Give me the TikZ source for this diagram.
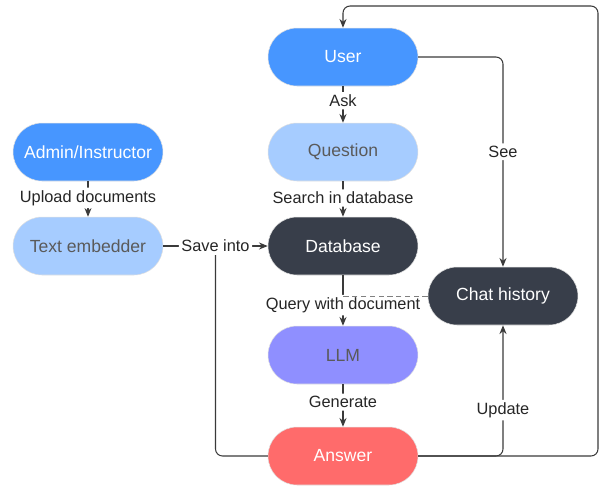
\documentclass[tikz,border=0pt]{standalone}
\usepackage{fontspec}
\setmainfont{Liberation Sans}
\usetikzlibrary{arrows.meta, positioning, calc}

\definecolor{userblue}{HTML}{4796FF}
\definecolor{paleblue}{HTML}{A6CCFF}
\definecolor{darkslate}{HTML}{383E4A}
\definecolor{llmpurple}{HTML}{8F8FFF}
\definecolor{answerred}{HTML}{FF6B6B}
\definecolor{linegray}{HTML}{3A3A3A}
\definecolor{textgray}{HTML}{5A5A5A}

\begin{document}
\begin{tikzpicture}[
        x=0.02cm, y=-0.02cm,
        pill/.style={rectangle, rounded corners=0.58cm, minimum width=3cm, minimum height=1.16cm, inner sep=0pt, draw=black!12, line width=0.3pt, font=\fontsize{10}{12}\selectfont},
        lbl/.style={fill=white, inner sep=1.5pt, text=black!85, font=\fontsize{9.3}{11}\selectfont},
        arrow/.style={-{Stealth[length=5pt, width=4pt]}, draw=linegray, line width=0.6pt, rounded corners=4pt},
        plain/.style={draw=linegray, line width=0.6pt, rounded corners=4pt}
    ]
    \useasboundingbox (0,0) rectangle (600,485);

    % Main column
    \node[pill, fill=userblue, text=white] (user) at (343,57) {User};
    \node[pill, fill=paleblue, text=textgray] (question) at (343,152) {Question};
    \node[pill, fill=darkslate, text=white] (database) at (343,246) {Database};
    \node[pill, fill=llmpurple, text=textgray] (llm) at (343,355) {LLM};
    \node[pill, fill=answerred, text=white] (answer) at (343,456) {Answer};

    % Left column
    \node[pill, fill=userblue, text=white] (admin) at (88,152) {Admin/Instructor};
    \node[pill, fill=paleblue, text=textgray] (embedder) at (88,246) {Text embedder};

    % Right side
    \node[pill, fill=darkslate, text=white] (chat) at (503,296) {Chat history};
    \coordinate (loopcorner) at (598,6);

    % --- Edges ---
    \draw[arrow] (admin) -- node[lbl, pos=0.47] {Upload documents} (embedder);
    \draw[arrow] (embedder) -- node[lbl] (save) {Save into} (database);
    \draw[plain] (answer.west) -| (save.south);

    \draw[arrow] (user) -- node[lbl, pos=0.4] {Ask} (question);
    \draw[arrow] (question) -- node[lbl, pos=0.47] {Search in database} (database);
    \draw[arrow] (database) -- node[lbl, pos=0.59] {Query with document} (llm);
    \draw[arrow] (llm) -- node[lbl, pos=0.42] {Generate} (answer);

    % Chat history links
    \draw[arrow] (user.east) -| node[lbl, pos=0.726] {See} (chat.north);
    \draw[arrow] (answer.east) -| node[lbl, pos=0.675] {Update} (chat.south);
    \draw[draw=gray, line width=0.5pt, dash pattern=on 3pt off 2pt] (chat.west) -- (chat.west -| database.south);

    % Back to user
    \draw[arrow] (answer.east) -| (loopcorner) -| (user.north);

\end{tikzpicture}
\end{document}
